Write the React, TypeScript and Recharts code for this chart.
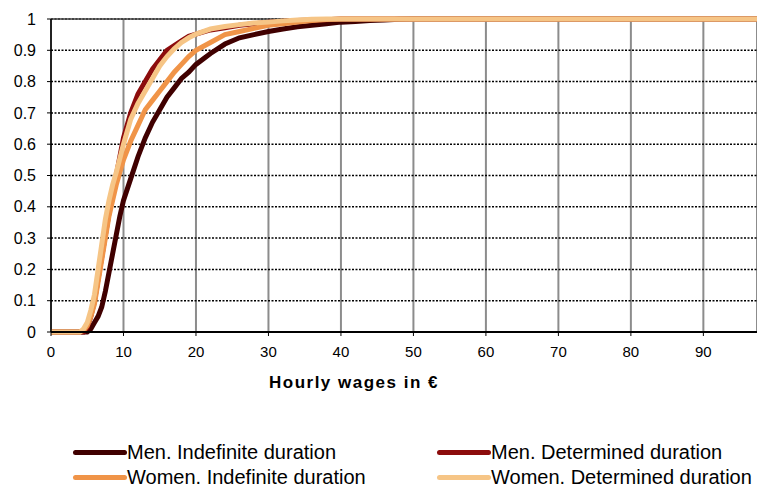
import {
  LineChart,
  Line,
  XAxis,
  YAxis,
  CartesianGrid,
  Legend,
  ReferenceLine,
} from 'recharts';

// hourly wage (€)
const wages = [
  0, 1, 2, 3, 4, 4.5, 5, 5.5, 6, 6.5, 7, 7.5, 8, 8.5, 9, 9.5, 10, 11, 12, 13,
  14, 15, 16, 17, 18, 19, 20, 22, 24, 26, 28, 30, 32, 34, 36, 38, 40, 42, 44,
  46, 48, 50, 97.4,
];

const menIndefinite = [
  0, 0, 0, 0, 0, 0, 0, 0.01, 0.03, 0.05, 0.08, 0.13, 0.19, 0.25, 0.31, 0.37,
  0.42, 0.49, 0.56, 0.62, 0.67, 0.71, 0.75, 0.78, 0.81, 0.83, 0.855, 0.89, 0.92,
  0.94, 0.95, 0.96, 0.968, 0.975, 0.98, 0.985, 0.99, 0.992, 0.995, 0.997, 0.999,
  1, 1,
];

const menDetermined = [
  0, 0, 0, 0, 0, 0, 0.015, 0.05, 0.1, 0.17, 0.24, 0.31, 0.38, 0.44, 0.5, 0.56,
  0.62, 0.7, 0.76, 0.8, 0.84, 0.87, 0.9, 0.915, 0.93, 0.945, 0.952, 0.965, 0.972,
  0.98, 0.985, 0.99, 0.993, 0.995, 0.997, 0.998, 1, 1, 1, 1, 1, 1, 1,
];

const womenIndefinite = [
  0, 0, 0, 0, 0, 0.005, 0.02, 0.05, 0.09, 0.16, 0.23, 0.3, 0.37, 0.42, 0.47,
  0.51, 0.55, 0.61, 0.66, 0.71, 0.74, 0.77, 0.8, 0.83, 0.855, 0.88, 0.9, 0.925,
  0.95, 0.96, 0.97, 0.98, 0.985, 0.99, 0.995, 0.998, 1, 1, 1, 1, 1, 1, 1,
];

const womenDetermined = [
  0, 0, 0, 0, 0, 0.01, 0.03, 0.07, 0.12, 0.2, 0.28, 0.36, 0.42, 0.47, 0.51,
  0.555, 0.6, 0.68, 0.73, 0.77, 0.81, 0.85, 0.88, 0.905, 0.925, 0.94, 0.952,
  0.968, 0.976, 0.982, 0.987, 0.99, 0.994, 0.997, 0.999, 1, 1, 1, 1, 1, 1, 1, 1,
];

const seriesNames = [
  'Men. Indefinite duration',
  'Men. Determined duration',
  'Women. Indefinite duration',
  'Women. Determined duration',
];

const xTicks = [0, 10, 20, 30, 40, 50, 60, 70, 80, 90];
const yTicks = [0, 0.1, 0.2, 0.3, 0.4, 0.5, 0.6, 0.7, 0.8, 0.9, 1];

const data = wages.map((x, i) => ({
  x,
  mi: menIndefinite[i],
  md: menDetermined[i],
  wi: womenIndefinite[i],
  wd: womenDetermined[i],
}));

const FONT = '"Liberation Sans", Arial, sans-serif';

// legend keeps series order, 2 columns
const CustomLegend = ({ payload }: any) => {
  const items = seriesNames
    .map((n) => (payload || []).find((p: any) => p.value === n))
    .filter(Boolean);
  return (
    <div style={{ position: 'relative', width: 757, height: 55, fontFamily: FONT }}>
      {items.map((entry: any, i: number) => (
        <div
          key={entry.value}
          style={{
            position: 'absolute',
            left: i % 2 === 0 ? 73 : 437,
            top: 4 + Math.floor(i / 2) * 25,
            height: 25,
            display: 'flex',
            alignItems: 'center',
            fontSize: 20,
            color: '#000',
            whiteSpace: 'nowrap',
          }}
        >
          <span
            style={{
              display: 'inline-block',
              width: 54,
              height: 5,
              borderRadius: 3,
              background: entry.color,
            }}
          />
          <span>{entry.value}</span>
        </div>
      ))}
    </div>
  );
};

export default function App() {
  return (
    <div style={{ position: 'absolute', left: 0, top: 0, width: 757, height: 491, background: '#fff' }}>
      <LineChart
        width={757}
        height={491}
        data={data}
        margin={{ top: 19, right: 0, left: 0, bottom: 0 }}
      >
        <CartesianGrid
          horizontal={false}
          vertical={true}
          stroke="#8c8c8c"
          strokeWidth={2}
        />
        <CartesianGrid
          horizontal={true}
          vertical={false}
          stroke="#000"
          strokeWidth={1.5}
          strokeDasharray="2 1.5"
        />
        <ReferenceLine y={1} stroke="#444" strokeWidth={1.5} />
        <XAxis
          type="number"
          dataKey="x"
          domain={[0, 97.4]}
          ticks={xTicks}
          height={104}
          tickSize={4}
          tickMargin={10}
          axisLine={{ stroke: '#000', strokeWidth: 2 }}
          tickLine={{ stroke: '#000' }}
          tick={{ fill: '#000', fontSize: 15, fontFamily: FONT }}
          label={{
            value: 'Hourly wages in €',
            position: 'insideBottom',
            offset: 48,
            dx: -50,
            fill: '#000',
            fontSize: 17,
            fontWeight: 'bold',
            fontFamily: FONT,
            letterSpacing: 1.5,
          }}
        />
        <YAxis
          type="number"
          domain={[0, 1]}
          ticks={yTicks}
          width={51}
          tickSize={4}
          tickMargin={11}
          axisLine={{ stroke: '#000', strokeWidth: 1.5 }}
          tickLine={{ stroke: '#000' }}
          tick={{ fill: '#000', fontSize: 16, fontFamily: FONT }}
          tickFormatter={(v: number) => (v === 0 || v === 1 ? String(v) : v.toFixed(1))}
        />
        <Legend
          verticalAlign="bottom"
          align="left"
          wrapperStyle={{ left: 0, width: 757 }}
          content={<CustomLegend />}
        />
        <Line
          name="Men. Indefinite duration"
          dataKey="mi"
          stroke="#400000"
          strokeWidth={5}
          dot={false}
          activeDot={false}
          type="linear"
          isAnimationActive={false}
        />
        <Line
          name="Men. Determined duration"
          dataKey="md"
          stroke="#8c0c0c"
          strokeWidth={5}
          dot={false}
          activeDot={false}
          type="linear"
          isAnimationActive={false}
        />
        <Line
          name="Women. Indefinite duration"
          dataKey="wi"
          stroke="#f09448"
          strokeWidth={5}
          dot={false}
          activeDot={false}
          type="linear"
          isAnimationActive={false}
        />
        <Line
          name="Women. Determined duration"
          dataKey="wd"
          stroke="#f6c586"
          strokeWidth={5}
          dot={false}
          activeDot={false}
          type="linear"
          isAnimationActive={false}
        />
      </LineChart>
    </div>
  );
}
